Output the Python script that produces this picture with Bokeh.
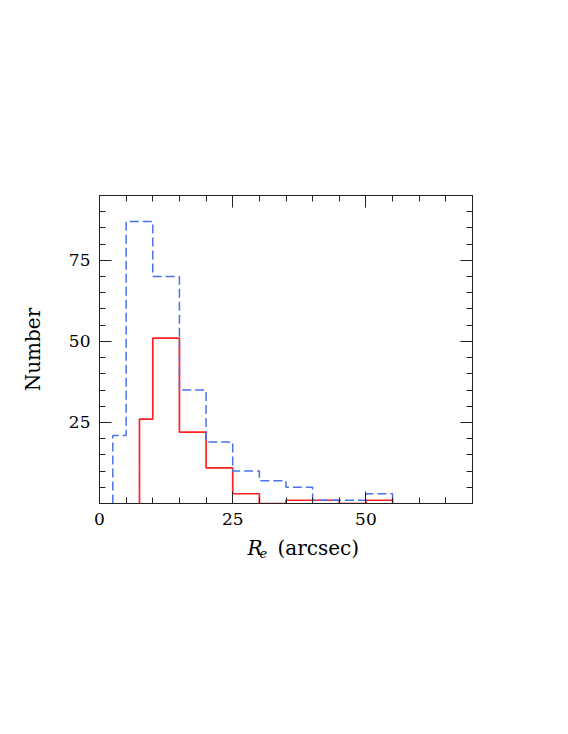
from bokeh.plotting import figure
from bokeh.layouts import column
from bokeh.models import FixedTicker, LinearAxis, Range1d, Label
from bokeh.embed import file_html
from bokeh.resources import INLINE

# Bin edges and counts
red_edges = [7.5, 10, 15, 20, 25, 30, 35, 40, 45, 50, 55]
red_counts = [26, 51, 22, 11, 3, 0, 1, 1, 0, 1]
blue_edges = [2.5, 5, 10, 15, 20, 25, 30, 35, 40, 45, 50, 55]
blue_counts = [21, 87, 70, 35, 19, 10, 7, 5, 1, 1, 3]

x_major = [0, 25, 50]
x_minor = list(range(0, 75, 5))
y_major = [25, 50, 75]
y_minor = list(range(0, 95, 5))

FONT = "DejaVu Serif"

p = figure(width=552, height=535, output_backend="svg", toolbar_location=None,
           x_range=Range1d(0, 70), y_range=Range1d(0, 95),
           min_border_left=99, min_border_right=80, min_border_top=195,
           min_border_bottom=32)
p.background_fill_color = "white"
p.border_fill_color = "white"
p.outline_line_color = "#222222"
p.outline_line_width = 1
p.grid.visible = False


def step_xy(edges, counts):
    xs = [edges[0]] + list(edges)
    ys = [0] + list(counts) + [0]
    return xs, ys


rx, ry = step_xy(red_edges, red_counts)
bx, by = step_xy(blue_edges, blue_counts)
p.step(rx, ry, mode="after", line_color="#ff2020", line_width=1.7)
p.step(bx, by, mode="after", line_color="#4a72e8", line_width=1.5, line_dash="9 4")


def style(ax, ticks, minor, labels=True):
    ax.ticker = FixedTicker(ticks=ticks, minor_ticks=minor)
    ax.major_tick_in = 12
    ax.major_tick_out = 0
    ax.minor_tick_in = 6
    ax.minor_tick_out = 0
    ax.axis_line_color = "#222222"
    ax.major_tick_line_color = "#222222"
    ax.minor_tick_line_color = "#222222"
    ax.major_label_text_font = FONT
    ax.major_label_text_font_size = "17px"
    ax.major_label_text_color = "black"
    ax.major_label_standoff = 9
    if not labels:
        ax.major_label_overrides = {t: "" for t in ticks}


style(p.xaxis[0], x_major, x_minor)
style(p.yaxis[0], y_major, y_minor)
p.yaxis[0].axis_label = "Number"
p.yaxis[0].axis_label_text_font = FONT
p.yaxis[0].axis_label_text_font_size = "20px"
p.yaxis[0].axis_label_text_font_style = "normal"
p.yaxis[0].axis_label_text_color = "black"
p.yaxis[0].axis_label_standoff = 21

top = LinearAxis()
style(top, x_major, x_minor, labels=False)
p.add_layout(top, "above")
right = LinearAxis()
style(right, y_major, y_minor, labels=False)
p.add_layout(right, "right")

# x axis label R_e (arcsec) drawn in a strip below the chart
p2 = figure(width=552, height=183, output_backend="svg", toolbar_location=None,
            x_range=Range1d(0, 1), y_range=Range1d(0, 1),
            x_axis_location=None, y_axis_location=None, min_border=0)
p2.grid.visible = False
p2.outline_line_color = None
p2.background_fill_color = "white"
p2.border_fill_color = "white"

p2.add_layout(Label(x=148, y=171, x_units="screen", y_units="screen", text="R",
                    text_font=FONT, text_font_style="italic",
                    text_font_size="20px", text_baseline="alphabetic", text_color="black"))
p2.add_layout(Label(x=160, y=166, x_units="screen", y_units="screen", text="e",
                    text_font=FONT, text_font_style="italic",
                    text_font_size="13px", text_baseline="alphabetic", text_color="black"))
p2.add_layout(Label(x=178, y=171, x_units="screen", y_units="screen", text="(arcsec)",
                    text_font=FONT,
                    text_font_size="20px", text_baseline="alphabetic", text_color="black"))

layout = column(p, p2, spacing=0)
open("out.html", "w").write(file_html(layout, INLINE))
